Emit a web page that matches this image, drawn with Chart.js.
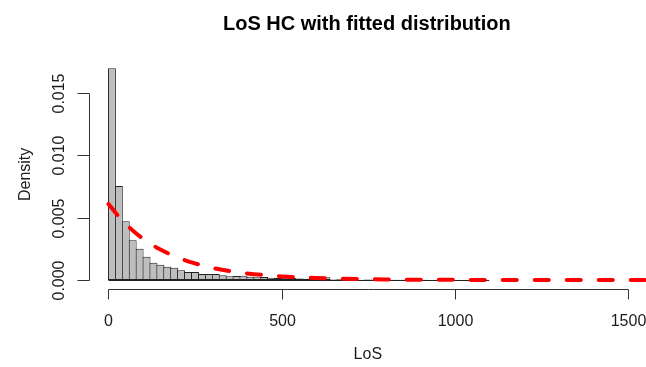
<!DOCTYPE html>
<html>
<head>
<meta charset="utf-8">
<script src="https://cdn.jsdelivr.net/npm/chart.js@4/dist/chart.umd.min.js"></script>
<style>
  html, body { margin: 0; padding: 0; background: #ffffff; }
  canvas { display: block; }
</style>
</head>
<body>
<canvas id="chart" width="646" height="367"></canvas>
<script>
// Length of stay histogram (20-day bins, density scale) with a fitted exponential curve
const binWidth = 20;
const binStarts = [
  0, 20, 40, 60, 80, 100, 120, 140, 160, 180,
  200, 220, 240, 260, 280, 300, 320, 340, 360, 380,
  400, 420, 440, 460, 480, 500, 520, 540, 560, 580,
  600, 620, 640, 660, 680, 700, 720, 740, 760, 780,
  800, 820, 840, 860, 880, 900, 920, 940, 960, 980,
  1000, 1020, 1040, 1060, 1080
];
const density = [
  0.01700, 0.00754, 0.00471, 0.00319, 0.00251, 0.00187, 0.00139, 0.00123, 0.00107, 0.00099,
  0.00078, 0.00064, 0.00064, 0.00048, 0.00048, 0.00048, 0.00038, 0.00030, 0.00032, 0.00034,
  0.00026, 0.00022, 0.00024, 0.00018, 0.00016, 0.00014, 0.00016, 0.00012, 0.00010, 0.00011,
  0.00008, 0.00022, 0.00005, 0.00006, 0.00004, 0.00004, 0.00003, 0.00004, 0.00003, 0.00002,
  0.00003, 0.00002, 0.00002, 0.00002, 0.00001, 0.00002, 0.00001, 0.00001, 0.00001, 0.00001,
  0.00001, 0.00001, 0.00000, 0.00000, 0.00001
];

// Fitted density sampled along LoS
const fitX = [0, 25, 50, 75, 100, 125, 150, 175, 200, 250, 300, 350, 400, 500, 600, 800, 1000, 1200, 1400, 1560];
const fitDensity = [
  0.00610, 0.00524, 0.00450, 0.00386, 0.00331, 0.00284, 0.00244, 0.00210, 0.00180,
  0.00133, 0.00098, 0.00072, 0.00053, 0.00029, 0.00016, 0.000046, 0.000014, 0.000004,
  0.0000012, 0.0000005
];

const xTicks = [0, 500, 1000, 1500];
const xTickLabels = ['0', '500', '1000', '1500'];
const yTicks = [0, 0.005, 0.010, 0.015];
const yTickLabels = ['0.000', '0.005', '0.010', '0.015'];

const titleText = 'LoS HC with fitted distribution';
const xTitle = 'LoS';
const yTitle = 'Density';

const FONT = '"Liberation Sans", Arial, Helvetica, sans-serif';
const INK = '#1c1c1c';

// R-style detached axes, labels and the histogram base line
const rStyle = {
  id: 'rStyle',
  beforeDatasetsDraw(chart) {
    const { ctx, scales: { x, y } } = chart;
    const y0 = Math.round(y.getPixelForValue(0)) + 0.5;
    const xa = x.getPixelForValue(binStarts[0]);
    const xb = x.getPixelForValue(binStarts[binStarts.length - 1] + binWidth);
    ctx.save();
    ctx.strokeStyle = '#222';
    ctx.lineWidth = 1;
    ctx.beginPath();
    ctx.moveTo(xa, y0);
    ctx.lineTo(xb, y0);
    ctx.stroke();
    ctx.restore();
  },
  afterDraw(chart) {
    const { ctx, chartArea, scales: { x, y } } = chart;
    const tick = 10;
    ctx.save();
    ctx.strokeStyle = '#333';
    ctx.lineWidth = 1;
    ctx.fillStyle = INK;

    // x axis
    const ax = Math.round(chartArea.bottom) + 0.5;
    const xs = xTicks.map(v => Math.round(x.getPixelForValue(v)) + 0.5);
    ctx.beginPath();
    ctx.moveTo(xs[0], ax);
    ctx.lineTo(xs[xs.length - 1], ax);
    xs.forEach(px => { ctx.moveTo(px, ax); ctx.lineTo(px, ax + tick); });
    ctx.stroke();
    ctx.font = '16px ' + FONT;
    ctx.textAlign = 'center';
    ctx.textBaseline = 'alphabetic';
    xs.forEach((px, i) => ctx.fillText(xTickLabels[i], px, 326));

    // y axis
    const ay = Math.round(chartArea.left) + 1.5;
    const ys = yTicks.map(v => Math.round(y.getPixelForValue(v)) + 0.5);
    ctx.beginPath();
    ctx.moveTo(ay, ys[0]);
    ctx.lineTo(ay, ys[ys.length - 1]);
    ys.forEach(py => { ctx.moveTo(ay, py); ctx.lineTo(ay - tick - 2, py); });
    ctx.stroke();
    ys.forEach((py, i) => {
      ctx.save();
      ctx.translate(60, py);
      ctx.rotate(-Math.PI / 2);
      ctx.textAlign = 'center';
      ctx.textBaseline = 'middle';
      ctx.fillText(yTickLabels[i], 0, 0);
      ctx.restore();
    });

    // axis titles
    ctx.textAlign = 'center';
    ctx.textBaseline = 'middle';
    ctx.fillText(xTitle, (chartArea.left + chartArea.right) / 2 + 1, 355);
    ctx.save();
    ctx.translate(26, (chartArea.top + chartArea.bottom) / 2);
    ctx.rotate(-Math.PI / 2);
    ctx.fillText(yTitle, 0, 0);
    ctx.restore();

    // main title
    ctx.font = 'bold 20px ' + FONT;
    ctx.textBaseline = 'alphabetic';
    ctx.fillStyle = '#000';
    ctx.fillText(titleText, (chartArea.left + chartArea.right) / 2, 29.5);
    ctx.restore();
  }
};

new Chart(document.getElementById('chart'), {
  type: 'bar',
  data: {
    datasets: [
      {
        type: 'line',
        label: 'Fitted',
        data: fitX.map((v, i) => ({ x: v, y: fitDensity[i] })),
        borderColor: '#ff0000',
        borderWidth: 4,
        borderDash: [14, 18],
        borderCapStyle: 'round',
        pointRadius: 0,
        cubicInterpolationMode: 'monotone',
        fill: false,
        order: 0
      },
      {
        type: 'bar',
        label: 'LoS',
        data: binStarts.map((s, i) => ({ x: s + binWidth / 2, y: density[i] })),
        backgroundColor: '#bebebe',
        borderColor: '#222222',
        borderWidth: 1,
        borderSkipped: false,
        // widened by one border width so neighbouring outlines overlap into a single line
        barPercentage: 1.145,
        categoryPercentage: 1,
        order: 1
      }
    ]
  },
  options: {
    responsive: false,
    animation: false,
    devicePixelRatio: 1,
    layout: { padding: { left: 87.7, top: 59.8, right: 0, bottom: 78 } },
    plugins: {
      legend: { display: false },
      title: { display: false },
      tooltip: { enabled: false }
    },
    scales: {
      x: { type: 'linear', min: -60, max: 1553, offset: false, display: false },
      y: { type: 'linear', min: -0.000722, max: 0.01767, display: false }
    }
  },
  plugins: [rStyle]
});
</script>
</body>
</html>
